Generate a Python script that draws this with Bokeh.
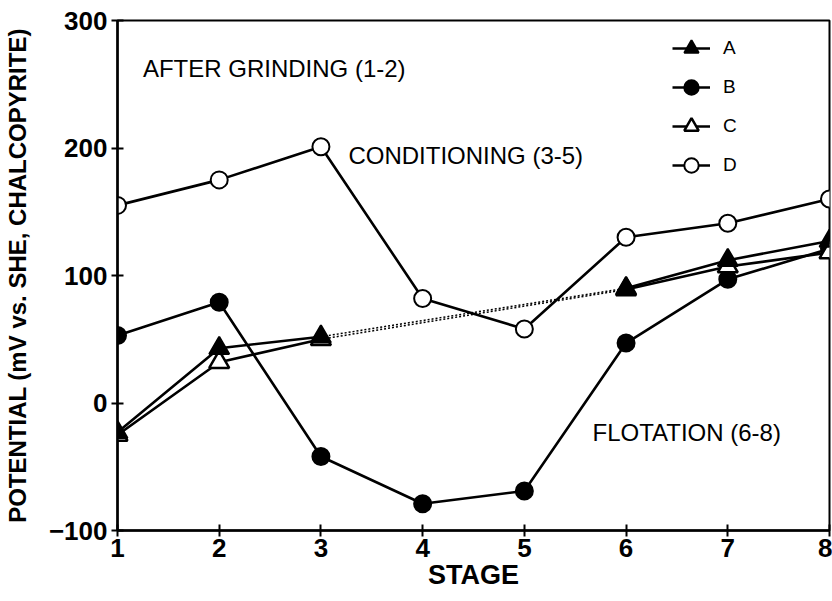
import math
from bokeh.plotting import figure
from bokeh.models import (Range1d, FixedTicker, Legend, LegendItem, Label)
from bokeh.embed import file_html
from bokeh.resources import INLINE

stages = [1, 2, 3, 4, 5, 6, 7, 8]
nan = float("nan")
series_A = [-23, 43, 52, nan, nan, 90, 112, 127]
series_B = [53, 79, -42, -79, -69, 47, 97, 121]
series_C = [-25, 32, 50, nan, nan, 89, 107, 118]
series_D = [155, 175, 201, 82, 58, 130, 141, 160]
y_ticks = [-100, 0, 100, 200, 300]
x_ticks = stages
annotations = [("AFTER GRINDING (1-2)", 1.25, 262),
               ("CONDITIONING (3-5)", 3.27, 194),
               ("FLOTATION (6-8)", 5.67, -23)]

FONT = "Liberation Sans"

p = figure(width=832, height=601, output_backend="svg", toolbar_location=None,
           x_range=Range1d(1, 8), y_range=Range1d(-100, 300),
           min_border_left=117, min_border_right=3, min_border_top=20,
           min_border_bottom=71)
p.xgrid.visible = False
p.ygrid.visible = False
p.background_fill_color = "white"
p.border_fill_color = "white"
p.outline_line_color = "black"
p.outline_line_width = 2
p.outline_line_alpha = 1

for ax in (p.xaxis[0], p.yaxis[0]):
    ax.axis_line_width = 2.5
    ax.axis_line_color = "black"
    ax.major_tick_line_width = 2
    ax.major_tick_line_color = "black"
    ax.major_tick_in = 6
    ax.major_tick_out = 6
    ax.minor_tick_line_color = None
    ax.major_label_text_font = FONT
    ax.major_label_text_font_style = "bold"
    ax.major_label_text_font_size = "26px"
    ax.major_label_text_color = "black"
    ax.axis_label_text_font = FONT
    ax.axis_label_text_font_style = "bold"
    ax.axis_label_text_color = "black"

p.xaxis.ticker = FixedTicker(ticks=x_ticks)
p.yaxis.ticker = FixedTicker(ticks=y_ticks)
p.xaxis.major_label_standoff = 2
p.yaxis.major_label_standoff = 4
p.xaxis.axis_label = "STAGE"
p.xaxis.axis_label_text_font_size = "27px"
p.xaxis.axis_label_standoff = 0
p.yaxis.axis_label = "POTENTIAL (mV vs. SHE, CHALCOPYRITE)"
p.yaxis.axis_label_text_font_size = "24px"
p.yaxis.axis_label_standoff = 15

LW = 2.6

# dotted connectors between stage 3 and 6 for A and C
for ser in (series_A, series_C):
    p.line([stages[2], stages[5]], [ser[2], ser[5]], line_color="black",
           line_width=1.5, line_dash="2 2")

rA = p.line(stages, series_A, line_color="black", line_width=LW)
rB = p.line(stages, series_B, line_color="black", line_width=LW)
rC = p.line(stages, series_C, line_color="black", line_width=LW)
rD = p.line(stages, series_D, line_color="black", line_width=LW)

mD = p.scatter(stages, series_D, marker="circle", size=17, fill_color="white",
               line_color="black", line_width=2)
mB = p.scatter(stages, series_B, marker="circle", size=17, fill_color="black",
               line_color="black", line_width=2)
mC = p.scatter(stages, series_C, marker="triangle", size=20, fill_color="white",
               line_color="black", line_width=2.5)
mA = p.scatter(stages, series_A, marker="triangle", size=20, fill_color="black",
               line_color="black", line_width=2)

legend = Legend(items=[LegendItem(label="A", renderers=[rA, mA]),
                       LegendItem(label="B", renderers=[rB, mB]),
                       LegendItem(label="C", renderers=[rC, mC]),
                       LegendItem(label="D", renderers=[rD, mD])],
                location=(555, 347))
legend.margin = 0
legend.padding = 0
legend.spacing = 3
legend.glyph_width = 38
legend.glyph_height = 36
legend.label_height = 36
legend.label_standoff = 13
legend.label_text_font = FONT
legend.label_text_font_size = "19px"
legend.label_text_color = "black"
legend.border_line_color = None
legend.background_fill_alpha = 0
p.add_layout(legend, "center")

for txt, x, y in annotations:
    p.add_layout(Label(x=x, y=y, text=txt, text_font=FONT, text_font_size="24px",
                       text_baseline="middle", text_align="left",
                       text_color="black"))

open("out.html", "w").write(file_html(p, INLINE))
